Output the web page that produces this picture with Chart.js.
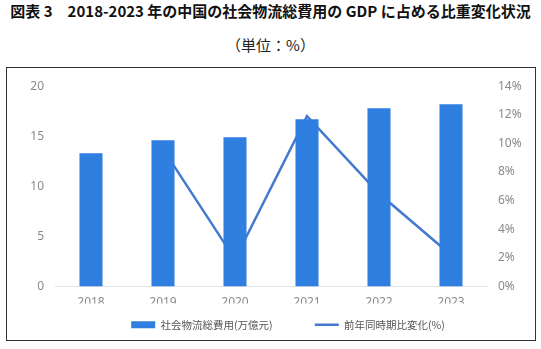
<!DOCTYPE html>
<html>
<head>
<meta charset="utf-8">
<script src="https://cdn.jsdelivr.net/npm/chart.js@4"></script>
<style>
  html, body { overflow: hidden; }
  body { margin: 0; background: #fff; width: 541px; height: 349px; position: relative; font-family: "Noto Sans CJK JP", sans-serif; }
  .title { position: absolute; left: 0; width: 541px; top: 0px; text-align: center; font-size: 15px; font-weight: bold; color: #111; white-space: nowrap; }
  .sub { position: absolute; left: 0; width: 541px; top: 34px; text-align: center; font-size: 15px; color: #222; }
  .box { position: absolute; left: 6px; top: 67px; width: 528px; height: 272px; border: 1px solid #333; }
  /* キャンバスは枠より右へはみ出させ、凡例の中心を右へずらす */
  #myChart { position: absolute; left: 0; top: 0; }
</style>
</head>
<body>
<div class="title">図表 3　2018-2023 年の中国の社会物流総費用の GDP に占める比重変化状況</div>
<div class="sub">（単位：%）</div>
<div class="box"><canvas id="myChart" width="562" height="272"></canvas></div>
<script>
const years = ['2018', '2019', '2020', '2021', '2022', '2023'];
const totalCost = [13.3, 14.6, 14.9, 16.7, 17.8, 18.2];   // 社会物流総費用(万億元)
const yoyChange = [null, 9.6, 1.9, 11.9, 6.5, 2.2];     // 前年同時期比変化(%)
const leftTicks = [0, 20, 5];
const rightTicks = [0, 14, 2];

const tickFont = { family: '"Noto Sans", sans-serif', size: 12 };

new Chart(document.getElementById('myChart').getContext('2d'), {
    type: 'bar',
    data: {
        labels: years,
        datasets: [
            {
                // 全角スペースは凡例の間隔調整用
                label: '社会物流総費用(万億元)\u3000\u3000\u2002',
                data: totalCost,
                backgroundColor: '#2f7fe0',
                yAxisID: 'y',
                barPercentage: 0.32,
                categoryPercentage: 1,
                pointStyle: 'rect',
                order: 1
            },
            {
                type: 'line',
                label: '前年同時期比変化(%)',
                data: yoyChange,
                borderColor: '#4479cf',
                backgroundColor: '#4479cf',
                borderWidth: 2.5,
                pointRadius: 0,
                pointStyle: 'line',
                yAxisID: 'y1',
                order: 2
            }
        ]
    },
    options: {
        responsive: false,
        animation: false,
        layout: { padding: { top: 1 } },
        scales: {
            x: {
                grid: { display: false, drawTicks: false },
                border: { color: '#e3e3e3' },
                ticks: { color: '#8a8a8a', font: tickFont, padding: 9 },
                afterFit: s => { s.height = 17; }
            },
            y: {
                position: 'left',
                min: leftTicks[0], max: leftTicks[1],
                grid: { display: false, drawTicks: false },
                border: { display: false },
                ticks: { stepSize: leftTicks[2], color: '#8a8a8a', font: tickFont, padding: 11 },
                afterFit: s => { s.width = 48; }
            },
            y1: {
                position: 'right',
                min: rightTicks[0], max: rightTicks[1],
                grid: { display: false, drawTicks: false },
                border: { display: false },
                ticks: { stepSize: rightTicks[2], color: '#8a8a8a', font: tickFont, padding: 11, callback: v => v + '%' },
                afterFit: s => { s.width = 82; }
            }
        },
        plugins: {
            tooltip: { enabled: false },
            legend: {
                position: 'bottom',
                labels: {
                    usePointStyle: true,
                    pointStyleWidth: 24,
                    boxHeight: 7,
                    padding: 16,
                    color: '#555',
                    font: { family: '"Noto Sans CJK JP", sans-serif', size: 10.5 }
                }
            }
        }
    }
});
</script>
</body>
</html>
